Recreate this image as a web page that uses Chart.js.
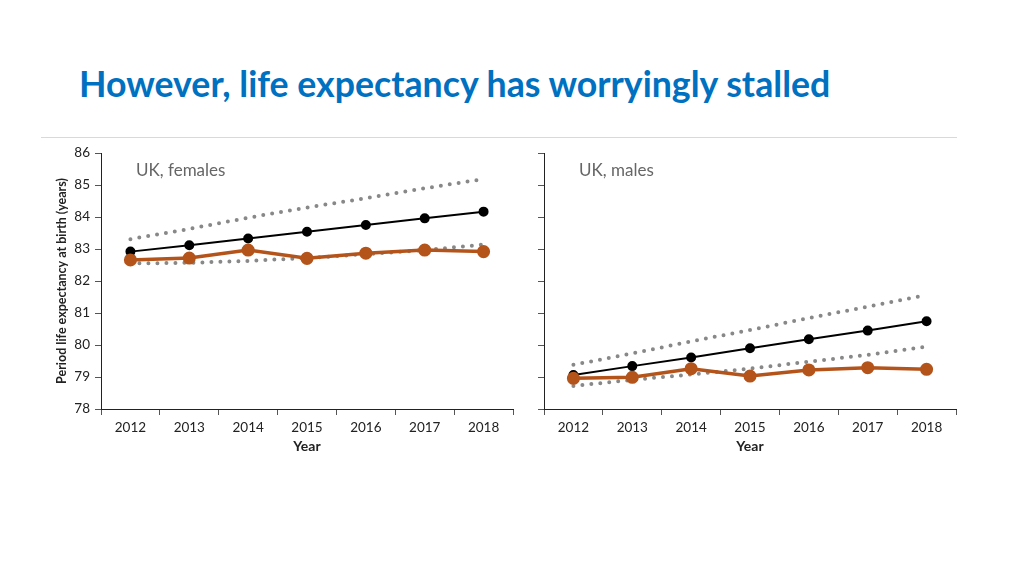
<!DOCTYPE html>
<html lang="en">
<head>
  <meta charset="UTF-8" />
  <title>Life expectancy stalled</title>
  <script src="https://cdn.jsdelivr.net/npm/chart.js"></script>
  <style>
    html, body { margin: 0; padding: 0; background: #fff; }
    body { width: 1024px; height: 576px; position: relative; overflow: hidden; font-family: Lato, sans-serif; }
    h1 {
      position: absolute; left: 79px; top: 62px; margin: 0;
      font-size: 35.7px; font-weight: 700; color: #0070C0; white-space: nowrap;
    }
    .rule { position: absolute; left: 41px; top: 137px; width: 916px; height: 1px; background: #d9d9d9; }
    .chart-box { position: absolute; top: 140px; width: 490px; height: 330px; }
    #femaleBox { left: 40px; }
    #maleBox { left: 483px; }
  </style>
</head>
<body>
  <h1>However, life expectancy has worryingly stalled</h1>
  <div class="rule"></div>
  <div class="chart-box" id="femaleBox"><canvas id="femaleChart"></canvas></div>
  <div class="chart-box" id="maleBox"><canvas id="maleChart"></canvas></div>

  <script>
    const years = ['2012', '2013', '2014', '2015', '2016', '2017', '2018'];

    // UK females
    const femaleActual = [82.66, 82.72, 82.97, 82.71, 82.87, 82.97, 82.92];
    const femaleProjected = [82.92, 83.12, 83.33, 83.54, 83.75, 83.96, 84.17];
    const femaleUpper = [83.31, 83.63, 83.98, 84.30, 84.59, 84.90, 85.19];
    const femaleLower = [82.55, 82.57, 82.63, 82.72, 82.84, 82.97, 83.14];

    // UK males
    const maleActual = [78.96, 78.99, 79.26, 79.03, 79.22, 79.29, 79.24];
    const maleProjected = [79.06, 79.34, 79.61, 79.90, 80.18, 80.45, 80.74];
    const maleUpper = [79.38, 79.74, 80.11, 80.47, 80.84, 81.20, 81.56];
    const maleLower = [78.72, 78.91, 79.08, 79.26, 79.48, 79.69, 79.95];

    const yMin = 78, yMax = 86;

    const axisColor = '#222';
    const tickFont = { family: 'Lato, sans-serif', size: 13.5 };

    // draws the "UK, females" / "UK, males" label in the plot corner
    const panelLabel = {
      id: 'panelLabel',
      afterDraw(chart, args, opts) {
        const ctx = chart.ctx;
        ctx.save();
        ctx.font = '17px Lato, sans-serif';
        ctx.fillStyle = '#666';
        ctx.textBaseline = 'alphabetic';
        ctx.fillText(opts.text, chart.chartArea.left + 35, chart.chartArea.top + 23);
        ctx.restore();
      }
    };

    function makeChart(id, label, actual, projected, upper, lower, showY) {
      const dotted = {
        borderColor: '#888',
        borderWidth: 4,
        borderDash: [0, 9],
        borderCapStyle: 'round',
        pointRadius: 0,
        fill: false,
        tension: 0
      };
      return new Chart(document.getElementById(id), {
        type: 'line',
        data: {
          labels: years,
          datasets: [
            {
              label: 'Actual',
              data: actual,
              borderColor: '#B4541A',
              backgroundColor: '#B4541A',
              borderWidth: 3.5,
              pointRadius: 4.8,
              tension: 0
            },
            {
              label: 'Projected',
              data: projected,
              borderColor: '#000',
              backgroundColor: '#000',
              borderWidth: 2,
              pointRadius: 4,
              tension: 0
            },
            Object.assign({ label: 'Upper', data: upper }, dotted),
            Object.assign({ label: 'Lower', data: lower }, dotted)
          ]
        },
        options: {
          responsive: true,
          maintainAspectRatio: false,
          animation: false,
          layout: { padding: { top: 13, right: 17, left: 0, bottom: 0 } },
          plugins: {
            legend: { display: false },
            tooltip: { enabled: false },
            panelLabel: { text: label }
          },
          scales: {
            x: {
              offset: true,
              grid: { offset: true, drawOnChartArea: false, tickLength: 6, color: '#555' },
              border: { color: axisColor, width: 1 },
              ticks: { font: tickFont, color: '#222', padding: 5, maxRotation: 0 },
              title: {
                display: true, text: 'Year', color: '#222',
                font: { family: 'Lato, sans-serif', size: 14, weight: 'bold' },
                padding: { top: 0, bottom: 15 }
              },
              afterFit(scale) { scale.height = 61; }
            },
            y: {
              min: yMin,
              max: yMax,
              grid: { drawOnChartArea: false, tickLength: 6, color: '#555' },
              border: { color: axisColor, width: 1 },
              ticks: { stepSize: 1, display: showY, font: tickFont, color: '#222', padding: 5 },
              title: {
                display: showY, text: 'Period life expectancy at birth (years)', color: '#222',
                font: { family: 'Lato, sans-serif', size: 12.5, weight: 'bold' },
                padding: { top: 14, bottom: 0 }
              },
              afterFit(scale) { scale.width = 61; }
            }
          }
        },
        plugins: [panelLabel]
      });
    }

    makeChart('femaleChart', 'UK, females', femaleActual, femaleProjected, femaleUpper, femaleLower, true);
    makeChart('maleChart', 'UK, males', maleActual, maleProjected, maleUpper, maleLower, false);
  </script>
</body>
</html>
